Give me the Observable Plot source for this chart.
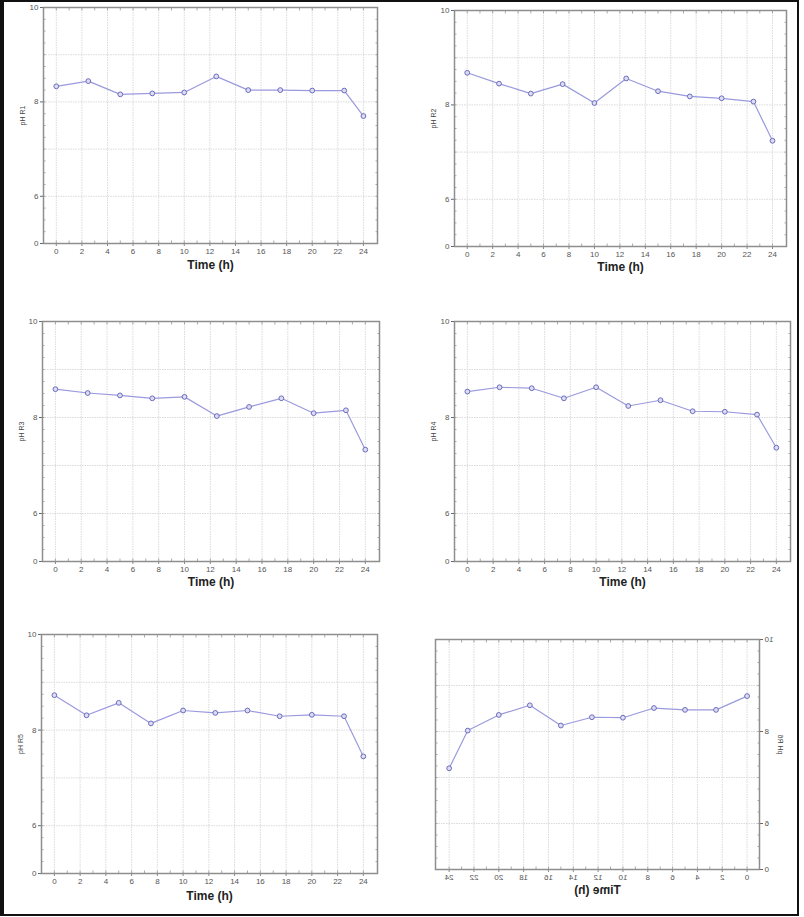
<!DOCTYPE html>
<html>
<head>
<meta charset="utf-8">
<script src="https://cdn.jsdelivr.net/npm/d3@7"></script>
<script src="https://cdn.jsdelivr.net/npm/@observablehq/plot@0.6"></script>
<style>
  html, body { margin: 0; padding: 0; background: #fff; }
  #root { position: relative; width: 804px; height: 917px; overflow: hidden; background: #fff; }
  #root svg { position: absolute; overflow: visible; }
  #border { position: absolute; left: 0; top: 0; width: 799px; height: 916px; box-sizing: border-box;
            border: 2px solid #111; border-left-width: 4px; pointer-events: none; }
</style>
</head>
<body>
<div id="root"><div id="border"></div></div>
<script>
// ---- data ----
const times = [0, 2.5, 5, 7.5, 10, 12.5, 15, 17.5, 20, 22.5, 24];
const phR1 = [8.33, 8.44, 8.16, 8.18, 8.20, 8.54, 8.25, 8.25, 8.24, 8.24, 7.70];
const phR2 = [8.68, 8.45, 8.24, 8.44, 8.04, 8.56, 8.29, 8.18, 8.14, 8.07, 7.24];
const phR3 = [8.59, 8.51, 8.46, 8.40, 8.43, 8.03, 8.22, 8.40, 8.09, 8.15, 7.33];
const phR4 = [8.54, 8.63, 8.61, 8.40, 8.63, 8.24, 8.36, 8.13, 8.12, 8.06, 7.37];
const phR5 = [8.73, 8.31, 8.57, 8.14, 8.41, 8.36, 8.41, 8.29, 8.32, 8.29, 7.45];
const phR6 = [8.77, 8.47, 8.47, 8.51, 8.30, 8.31, 8.13, 8.57, 8.36, 8.02, 7.20];
const seriesLabels = ["pH R1", "pH R2", "pH R3", "pH R4", "pH R5", "pH R6"];
const xTicks = [0, 2, 4, 6, 8, 10, 12, 14, 16, 18, 20, 22, 24];
const yTickValues = [5, 6, 8, 10];          // broken axis: bottom tick is labelled "0"
const yTickLabels = ["0", "6", "8", "10"];
const yGridValues = [6, 7, 8, 9];
const xLabel = "Time (h)";

// ---- layout (SVG boxes & margins) ----
const panels = [
  {vals: phR1, box: {left: 0,   top: 0,   w: 400, h: 290}, m: [43, 23, 7, 47],  dy: 25, mirror: false},
  {vals: phR2, box: {left: 400, top: 0,   w: 404, h: 290}, m: [54, 18, 10, 44], dy: 24, mirror: false},
  {vals: phR3, box: {left: 0,   top: 300, w: 400, h: 310}, m: [42, 21, 21, 49], dy: 24, mirror: false},
  {vals: phR4, box: {left: 400, top: 300, w: 404, h: 310}, m: [54, 14, 21, 49], dy: 24, mirror: false},
  {vals: phR5, box: {left: 0,   top: 610, w: 400, h: 307}, m: [41, 23, 24, 44], dy: 26, mirror: false},
  {vals: phR6, box: {left: 400, top: 610, w: 404, h: 307}, m: [44, 36, 29, 48], dy: 24, mirror: true}
];

const labelMap = new Map(yTickValues.map((v, i) => [v, yTickLabels[i]]));
const minorX = d3.range(0, 25, 1);
const minorY = d3.range(5, 10.01, 0.25);
const root = document.getElementById("root");

panels.forEach((p, i) => {
  const rows = times.map((t, j) => ({t, ph: p.vals[j]}));
  const [ml, mr, mt, mb] = p.m;
  const chart = Plot.plot({
    width: p.box.w,
    height: p.box.h,
    marginLeft: ml, marginRight: mr, marginTop: mt, marginBottom: mb,
    x: {domain: [-1, 25.1], label: null},
    y: {domain: [5, 10], label: null},
    style: {fontFamily: "'Liberation Sans', Arial, sans-serif", background: "transparent", overflow: "visible"},
    marks: [
      Plot.gridX({ticks: xTicks, stroke: "#dadada", strokeOpacity: 1, strokeDasharray: "1.5,1"}),
      Plot.gridY({ticks: yGridValues, stroke: "#dadada", strokeOpacity: 1, strokeDasharray: "1.5,1"}),
      Plot.axisX({ticks: minorX, anchor: "top", tickSize: -2.5, fill: "none", label: null, stroke: "#aaa"}),
      Plot.axisX({ticks: minorX, anchor: "bottom", tickSize: -2.5, fill: "none", label: null, stroke: "#aaa"}),
      Plot.axisY({ticks: minorY, anchor: "left", tickSize: -2.5, fill: "none", label: null, stroke: "#aaa"}),
      Plot.axisY({ticks: minorY, anchor: "right", tickSize: -2.5, fill: "none", label: null, stroke: "#aaa"}),
      Plot.axisX({ticks: xTicks, tickSize: 3, tickPadding: 2, fontSize: 8, fill: "#555", stroke: "#888", label: null}),
      Plot.axisY({ticks: yTickValues, tickSize: 3, tickPadding: 2, fontSize: 8, fill: "#555", stroke: "#666",
                  tickFormat: d => labelMap.get(d), label: null}),
      Plot.frame({stroke: "#8e8e8e", strokeWidth: 1.5}),
      Plot.line(rows, {x: "t", y: "ph", stroke: "#9a9ade", strokeWidth: 1.2}),
      Plot.dot(rows, {x: "t", y: "ph", r: 2.4, stroke: "#6c6cbc", fill: "#dcdcf5", strokeWidth: 1}),
      Plot.text([seriesLabels[i]], {frameAnchor: "left", rotate: -90, dx: -21, fontSize: 7, fill: "#444"}),
      Plot.text([xLabel], {frameAnchor: "bottom", dy: p.dy, fontSize: 12, fontWeight: "bold", fill: "#222"})
    ]
  });
  chart.style.left = p.box.left + "px";
  chart.style.top = p.box.top + "px";
  if (p.mirror) {
    chart.style.transform = "scaleX(-1)";
    chart.style.transformOrigin = "50% 50%";
  }
  root.insertBefore(chart, document.getElementById("border"));
});
</script>
</body>
</html>
